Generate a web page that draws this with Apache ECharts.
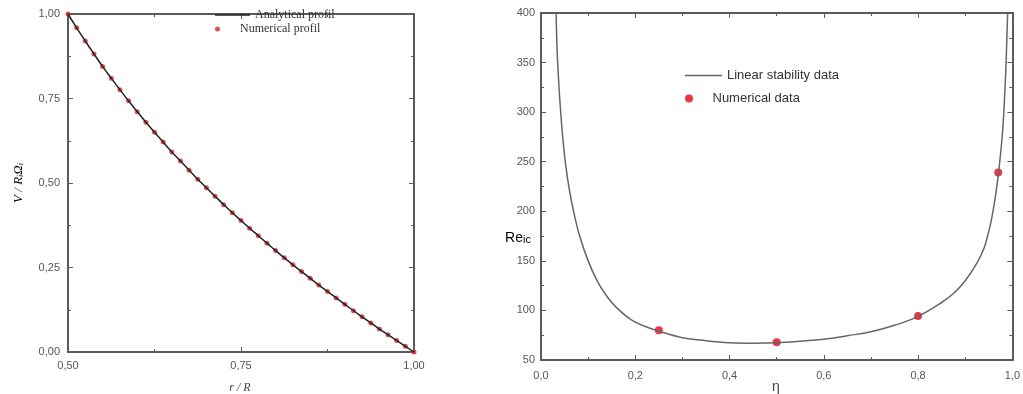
<!DOCTYPE html>
<html>
<head>
<meta charset="utf-8">
<script src="https://cdn.jsdelivr.net/npm/echarts@6/dist/echarts.min.js"></script>
<style>
  html, body { margin: 0; padding: 0; background: #fff; }
  #chart { width: 1023px; height: 394px; }
</style>
</head>
<body>
<div id="chart"></div>
<script>
// left panel: velocity profile, r/R vs V/(R_i Omega_i)
const profR = [0.5, 0.5125, 0.525, 0.5375, 0.55, 0.5625, 0.575, 0.5875, 0.6, 0.6125,
  0.625, 0.6375, 0.65, 0.6625, 0.675, 0.6875, 0.7, 0.7125, 0.725, 0.7375,
  0.75, 0.7625, 0.775, 0.7875, 0.8, 0.8125, 0.825, 0.8375, 0.85, 0.8625,
  0.875, 0.8875, 0.9, 0.9125, 0.925, 0.9375, 0.95, 0.9625, 0.975, 0.9875, 1.0]
const profV = [1.000, 0.959, 0.920, 0.882, 0.845, 0.810, 0.776, 0.743, 0.711, 0.680,
  0.650, 0.621, 0.592, 0.565, 0.538, 0.511, 0.486, 0.461, 0.436, 0.412,
  0.389, 0.366, 0.344, 0.322, 0.300, 0.279, 0.258, 0.238, 0.218, 0.198,
  0.179, 0.160, 0.141, 0.122, 0.104, 0.086, 0.068, 0.051, 0.034, 0.017, 0.000]

// right panel: critical Reynolds number vs radius ratio eta
const stabEta = [0.032, 0.034, 0.037, 0.041, 0.046, 0.052, 0.06, 0.07, 0.082, 0.1,
  0.12, 0.14, 0.16, 0.19, 0.22, 0.25, 0.3, 0.35, 0.4, 0.45,
  0.5, 0.55, 0.6, 0.65, 0.7, 0.75, 0.8, 0.85, 0.875, 0.9,
  0.925, 0.94, 0.95, 0.955, 0.96, 0.965, 0.97, 0.975, 0.98, 0.985, 0.9875, 0.99]
const stabRe = [400, 365, 335, 305, 275, 248, 222, 198, 175, 150,
  129, 114, 103, 91, 84, 79, 72.5, 69.5, 67.5, 67,
  67.5, 69, 71, 74.5, 78.5, 85, 94, 108, 117, 130,
  148, 163, 180, 190, 203, 218, 236, 258, 285, 330, 362, 400]
const numEta = [0.25, 0.5, 0.8, 0.97]
const numRe = [80, 68, 94.5, 239]

const pairs = (xs, ys) => xs.map((x, i) => [x, ys[i]])
const comma = (d) => (v) => v.toFixed(d).replace('.', ',')

const axisColor = '#5a5a5a'
const tickFont = { fontFamily: 'Liberation Sans', fontSize: 11, color: '#555' }

function frameAxis(opts) {
  // one side of the boxed frame, ticks inside
  return Object.assign({
    type: 'value',
    axisLine: { show: true, onZero: false, lineStyle: { color: axisColor, width: 2 } },
    axisTick: { show: true, inside: true, length: 5, lineStyle: { color: axisColor, width: 1 } },
    minorTick: { show: true, splitNumber: 2, length: 3, lineStyle: { color: axisColor, width: 1 } },
    splitLine: { show: false },
    axisLabel: { show: false }
  }, opts)
}

const chart = echarts.init(document.getElementById('chart'), null, { renderer: 'canvas' })

const option = {
  animation: false,
  backgroundColor: '#fff',
  grid: [
    { left: 68, top: 14, width: 346, height: 338 },
    { left: 541, top: 13, width: 472, height: 347 }
  ],
  xAxis: [
    frameAxis({ gridIndex: 0, position: 'bottom', min: 0.5, max: 1, interval: 0.25,
      axisLabel: Object.assign({ show: true, margin: 8, formatter: comma(2) }, tickFont) }),
    frameAxis({ gridIndex: 0, position: 'top', min: 0.5, max: 1, interval: 0.25 }),
    frameAxis({ gridIndex: 1, position: 'bottom', min: 0, max: 1, interval: 0.2,
      axisLabel: Object.assign({ show: true, margin: 10, formatter: comma(1) }, tickFont) }),
    frameAxis({ gridIndex: 1, position: 'top', min: 0, max: 1, interval: 0.2 })
  ],
  yAxis: [
    frameAxis({ gridIndex: 0, position: 'left', min: 0, max: 1, interval: 0.25,
      axisLabel: Object.assign({ show: true, margin: 8, formatter: comma(2) }, tickFont) }),
    frameAxis({ gridIndex: 0, position: 'right', min: 0, max: 1, interval: 0.25 }),
    frameAxis({ gridIndex: 1, position: 'left', min: 50, max: 400, interval: 50,
      axisLabel: Object.assign({ show: true, margin: 6 }, tickFont) }),
    frameAxis({ gridIndex: 1, position: 'right', min: 50, max: 400, interval: 50 })
  ],
  legend: [
    { data: [{ name: 'Analytical profil', icon: 'rect' }], left: 210, top: 4, itemWidth: 35, itemHeight: 1.5,
      textStyle: { fontFamily: 'Liberation Serif', fontSize: 12, color: '#333' } },
    { data: ['Numerical profil'], left: 210, top: 18, itemWidth: 35, itemHeight: 5,
      textStyle: { fontFamily: 'Liberation Serif', fontSize: 12, color: '#333' } },
    { data: [{ name: 'Linear stability data', icon: 'rect' }], left: 680, top: 64, itemWidth: 37, itemHeight: 1.5,
      textStyle: { fontFamily: 'Liberation Sans', fontSize: 13, color: '#333' } },
    { data: ['Numerical data'], left: 680, top: 87, itemWidth: 37, itemHeight: 8,
      textStyle: { fontFamily: 'Liberation Sans', fontSize: 13, color: '#333' } }
  ],
  graphic: [
    { type: 'text', x: 17, y: 183, rotation: Math.PI / 2,
      style: { text: '{m|V / R}{s|i}{m|Ω}{s|i}', align: 'center', verticalAlign: 'middle',
        rich: {
          m: { fontFamily: 'Liberation Serif', fontStyle: 'italic', fontSize: 13, color: '#444', lineHeight: 16, verticalAlign: 'bottom' },
          s: { fontFamily: 'Liberation Serif', fontStyle: 'italic', fontSize: 8, color: '#444', lineHeight: 12, verticalAlign: 'bottom' }
        } } },
    { type: 'text', x: 240, y: 388,
      style: { text: 'r / R', align: 'center', verticalAlign: 'middle',
        font: 'italic 12px "Liberation Serif"', fill: '#444' } },
    { type: 'text', x: 518, y: 236,
      style: { text: '{m|Re}{s|ic}', align: 'center', verticalAlign: 'middle',
        rich: {
          m: { fontFamily: 'Liberation Sans', fontSize: 14, color: '#444', lineHeight: 18, verticalAlign: 'bottom' },
          s: { fontFamily: 'Liberation Sans', fontSize: 11, color: '#444', lineHeight: 12, verticalAlign: 'bottom' }
        } } },
    { type: 'text', x: 776, y: 387,
      style: { text: 'η', align: 'center', verticalAlign: 'middle',
        font: '14px "Liberation Sans"', fill: '#444' } }
  ],
  series: [
    {
      name: 'Numerical profil',
      type: 'scatter',
      xAxisIndex: 0, yAxisIndex: 0,
      symbolSize: 5,
      itemStyle: { color: '#d8262a' },
      data: pairs(profR, profV)
    },
    {
      name: 'Analytical profil',
      type: 'line',
      xAxisIndex: 0, yAxisIndex: 0,
      symbol: 'none',
      smooth: true,
      lineStyle: { color: '#222', width: 1.5 },
      itemStyle: { color: '#222' },
      data: pairs(profR, profV)
    },
    {
      name: 'Linear stability data',
      type: 'line',
      xAxisIndex: 2, yAxisIndex: 2,
      symbol: 'none',
      smooth: 0.4,
      clip: true,
      lineStyle: { color: '#666', width: 1.5 },
      itemStyle: { color: '#666' },
      data: pairs(stabEta, stabRe)
    },
    {
      name: 'Numerical data',
      type: 'scatter',
      xAxisIndex: 2, yAxisIndex: 2,
      symbolSize: 8,
      itemStyle: { color: '#e3061b' },
      data: pairs(numEta, numRe)
    }
  ]
}

chart.setOption(option)
</script>
</body>
</html>
